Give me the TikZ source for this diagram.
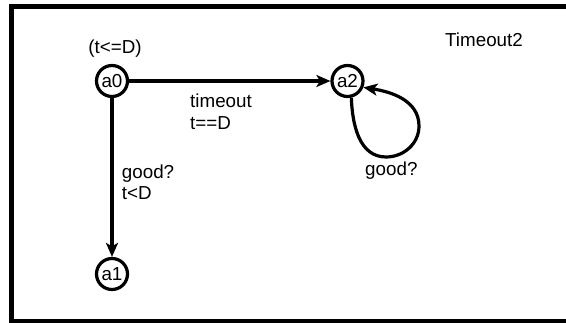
\documentclass[tikz,border=0pt]{standalone}
\usepackage{fontspec}
\setmainfont{Liberation Sans}
\usetikzlibrary{arrows.meta}
\tikzset{
  state/.style={draw, circle, line width=3.2pt, minimum size=31pt, inner sep=0pt},
  edge/.style={line width=3.2pt, -{Stealth[length=14pt,width=12pt,inset=3.5pt]}},
  lbl/.style={inner sep=0pt, align=left, font=\fontsize{18.8}{21.3}\selectfont}
}
\begin{document}
\begin{tikzpicture}[x=1pt,y=1pt, font=\fontsize{18.8}{21.3}\selectfont]
\useasboundingbox (0,0) rectangle (566,322);
\begin{scope}
\clip (0,0) rectangle (566,322);
\draw[line width=4.5pt] (11.7,1) rectangle (572,315.5);
\end{scope}
\node[state] (a0) at (112,241) {a0};
\node[state] (a2) at (347.5,241) {a2};
\node[state] (a1) at (112,48) {a1};
\node[lbl, anchor=base] (inv) at (115,268) {(t<=D)};
\node[lbl, anchor=base west] (title) at (445,275.3) {Timeout2};
\draw[edge] (a0) -- (a2);
\draw[edge] (a0) -- (a1);
\draw[edge] (a2.-77) to[out=-88,in=180] (386,165) coordinate (lb) to[out=0,in=-90] (419,196) coordinate (lr) to[out=90,in=-9] (a2.-22);
\node[lbl, anchor=base west] (l1) at (190,192.7) {timeout\\t==D};
\node[lbl, anchor=base west] (l2) at (121.7,122.5) {good?\\t<D};
\node[lbl, anchor=base west] (l3) at (365,146.5) {good?};
\end{tikzpicture}
\end{document}
